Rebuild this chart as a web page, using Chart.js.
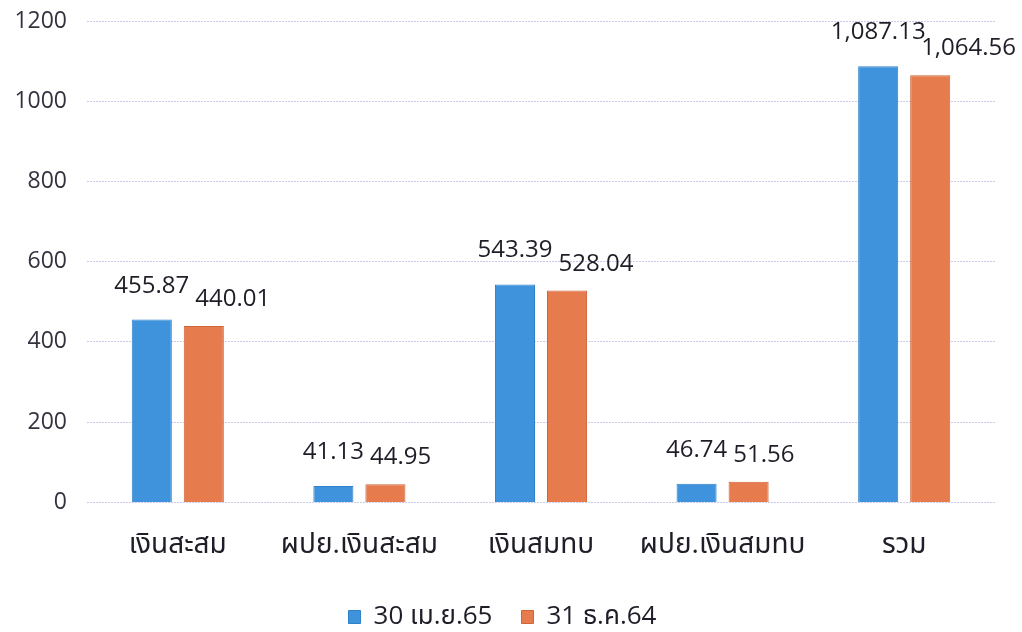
<!DOCTYPE html>
<html>
<head>
<meta charset="utf-8">
<script src="https://cdn.jsdelivr.net/npm/chart.js@4"></script>
<style>
  html, body { margin: 0; padding: 0; background: #ffffff; }
  #wrap { width: 1022px; height: 632px; }
</style>
</head>
<body>
<div id="wrap"><canvas id="barChart" width="1022" height="632"></canvas></div>
<script>
const categories = ["เงินสะสม", "ผปย.เงินสะสม", "เงินสมทบ", "ผปย.เงินสมทบ", "รวม"];
const seriesNames = ["30 เม.ย.65", "31 ธ.ค.64"];
const apr65 = [455.87, 41.13, 543.39, 46.74, 1087.13];
const dec64 = [440.01, 44.95, 528.04, 51.56, 1064.56];
const yTicks = [0, 200, 400, 600, 800, 1000, 1200];

const FONT = "'Open Sans', 'Noto Sans', 'Noto Sans Thai', sans-serif";
const TEXT_COLOR = "#1e1e28";

function fmt(v) {
    return v.toLocaleString("en-US", { minimumFractionDigits: 2, maximumFractionDigits: 2 });
}

// value above each bar; the second label is pushed right when it would run into the first
const valueLabels = {
    id: "valueLabels",
    afterDatasetsDraw(chart) {
        const ctx = chart.ctx;
        ctx.save();
        ctx.font = "24px " + FONT;
        ctx.fillStyle = TEXT_COLOR;
        ctx.textAlign = "left";
        ctx.textBaseline = "alphabetic";
        const first = chart.getDatasetMeta(0).data;
        const second = chart.getDatasetMeta(1).data;
        first.forEach((barA, j) => {
            const barB = second[j];
            const tA = fmt(chart.data.datasets[0].data[j]);
            const tB = fmt(chart.data.datasets[1].data[j]);
            const wA = ctx.measureText(tA).width;
            const wB = ctx.measureText(tB).width;
            const leftA = barA.x - wA / 2;
            let leftB = barB.x - wB / 2;
            if (leftB < leftA + wA + 6) leftB = leftA + wA + 6;
            if (leftB + wB > chart.width - 6) leftB = chart.width - 6 - wB;
            ctx.fillText(tA, leftA, barA.y - 27);
            ctx.fillText(tB, leftB, barB.y - 20);
        });
        ctx.restore();
    }
};

new Chart(document.getElementById("barChart").getContext("2d"), {
    type: "bar",
    data: {
        labels: categories,
        datasets: [
            {
                label: seriesNames[0],
                data: apr65,
                backgroundColor: "#3f93dc",
                borderColor: "#2f80c8",
                borderWidth: 1
            },
            {
                label: seriesNames[1],
                data: dec64,
                backgroundColor: "#e67c4e",
                borderColor: "#d0653a",
                borderWidth: 1
            }
        ]
    },
    options: {
        responsive: false,
        animation: false,
        devicePixelRatio: 1,
        layout: { padding: { top: 21, right: 27, left: 10, bottom: -8 } },
        datasets: {
            bar: { categoryPercentage: 0.573, barPercentage: 0.77 }
        },
        plugins: {
            legend: {
                position: "bottom",
                labels: {
                    font: { size: 26, family: FONT },
                    color: TEXT_COLOR,
                    boxWidth: 12,
                    boxHeight: 13,
                    padding: 29
                }
            },
            tooltip: { enabled: false }
        },
        scales: {
            x: {
                grid: { display: false },
                border: { display: false },
                afterFit(axis) {
                    axis.height -= 5;
                },
                ticks: {
                    font: { size: 28, family: FONT },
                    color: TEXT_COLOR,
                    padding: 18
                }
            },
            y: {
                min: 0,
                max: 1200,
                afterBuildTicks(axis) {
                    axis.ticks = yTicks.map((v) => ({ value: v }));
                },
                afterFit(axis) {
                    axis.width = 77;
                    axis.paddingTop = 0;
                    axis.paddingBottom = 0;
                },
                grid: { color: "#c9c9ea", drawTicks: false },
                border: { display: false, dash: [2, 1] },
                ticks: {
                    font: { size: 23, family: FONT },
                    color: "#333340",
                    padding: 20,
                    callback: (v) => String(v)
                }
            }
        }
    },
    plugins: [valueLabels]
});
</script>
</body>
</html>
